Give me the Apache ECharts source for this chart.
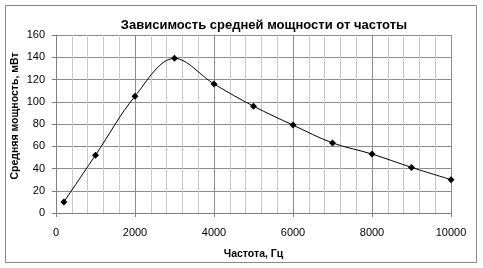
<!DOCTYPE html>
<html><head><meta charset="utf-8">
<script src="https://cdn.jsdelivr.net/npm/echarts@6/dist/echarts.min.js"></script>
<style>html,body{margin:0;padding:0;background:#fff}#c{width:483px;height:268px}</style>
</head><body><div id="c"></div>
<script>
var freq = [200, 1000, 2000, 3000, 4000, 5000, 6000, 7000, 8000, 9000, 10000];
var power = [10, 52, 105, 139, 116, 96, 79, 63, 53, 41, 30];
var title = 'Зависимость средней мощности от частоты';
var xName = 'Частота, Гц';
var yName = 'Средняя мощность, мВт';

var chart = echarts.init(document.getElementById('c'));
var font = 'Arial, "Liberation Sans", sans-serif';
chart.setOption({
  animation: false,
  backgroundColor: '#fff',
  title: {text: title, left: 259, textAlign: 'center', top: 14,
    textStyle: {fontSize: 13, fontWeight: 'bold', color: '#000', fontFamily: font}},
  graphic: [
    {type: 'rect', shape: {x: 5.5, y: 5.5, width: 471, height: 257},
      style: {fill: 'none', stroke: '#888', lineWidth: 1}, silent: true},
    {type: 'text', x: 15, y: 116, rotation: Math.PI / 2, silent: true,
      style: {text: yName, fill: '#000', font: 'bold 10.5px ' + font,
        align: 'center', verticalAlign: 'middle'}}
  ],
  grid: {left: 56, right: 32, top: 35, bottom: 55},
  xAxis: {type: 'value', min: 0, max: 10000, interval: 2000,
    name: xName, nameLocation: 'middle', nameGap: 36,
    nameTextStyle: {fontSize: 10.5, fontWeight: 'bold', color: '#000', fontFamily: font},
    axisLine: {show: true, lineStyle: {color: '#808080'}},
    axisTick: {show: true, length: 4, lineStyle: {color: '#808080'}},
    axisLabel: {fontSize: 11, color: '#000', margin: 14, fontFamily: font,
      formatter: function(v){return String(v);}},
    splitLine: {show: true, lineStyle: {color: '#8c8c8c'}},
    minorTick: {show: false, splitNumber: 5},
    minorSplitLine: {show: true, lineStyle: {color: '#c8c8c8'}}
  },
  yAxis: {type: 'value', min: 0, max: 160, interval: 20,
    axisLine: {show: true, lineStyle: {color: '#808080'}},
    axisTick: {show: true, length: 4, lineStyle: {color: '#808080'}},
    axisLabel: {fontSize: 11, color: '#000', margin: 11, fontFamily: font},
    splitLine: {show: true, lineStyle: {color: '#8c8c8c'}}
  },
  series: [{type: 'line', data: freq.map(function(f, i){return [f, power[i]];}),
    smooth: 0.35, symbol: 'diamond', symbolSize: 7,
    lineStyle: {color: '#000', width: 1}, itemStyle: {color: '#000'}}]
});
</script></body></html>
